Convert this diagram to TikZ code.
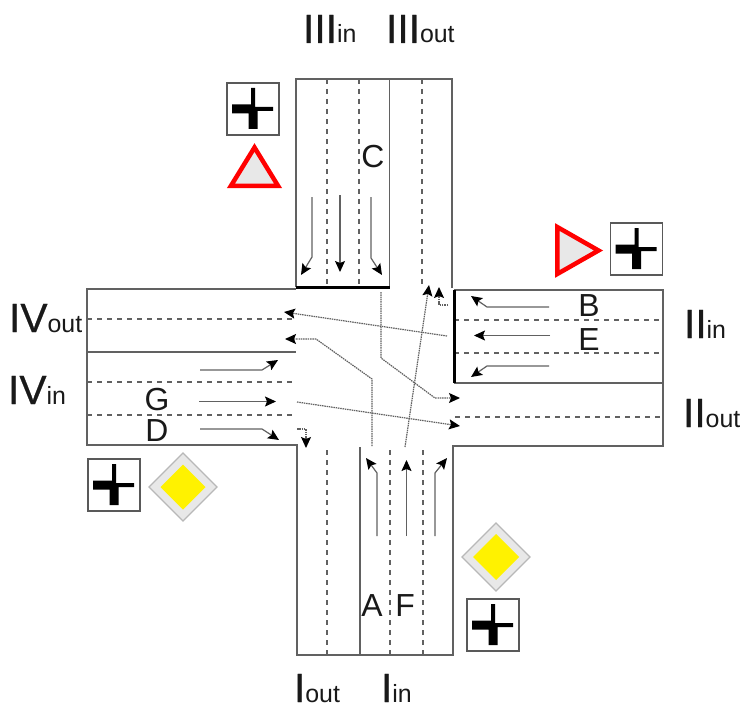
\documentclass[tikz,border=0pt]{standalone}
\usepackage{fontspec}
\setmainfont{Liberation Sans}
\newfontfamily\romfont[FakeBold=0.6]{Liberation Sans}
\usetikzlibrary{arrows.meta}
\definecolor{roadc}{gray}{0.38}
\definecolor{signg}{gray}{0.91}
\definecolor{signe}{gray}{0.72}
\newcommand{\rdlabel}[2]{{\romfont\fontsize{41}{41}\selectfont #1}\fontsize{25}{25}\selectfont #2}
\tikzset{
  x=1bp,y=-1bp,
  road/.style={draw=roadc,line width=1.4bp},
  lane/.style={draw=roadc,line width=1.2bp,dash pattern=on 5bp off 5bp},
  stopline/.style={draw=black,line width=3bp},
  flow/.style={draw=roadc,line width=1.2bp,-{Stealth[length=11bp,width=10bp,inset=2bp,color=black]}},
  path dotted/.style={draw=roadc,line width=1.2bp,dash pattern=on 1.5bp off 0.8bp,-{Stealth[length=11bp,width=10bp,inset=2bp,color=black]}},
  rdtext/.style={anchor=base west,inner sep=0pt,outer sep=0pt,text=black!90},
  letter/.style={anchor=base,inner sep=0pt,outer sep=0pt,font=\fontsize{32}{32}\selectfont,text=black!90},
  plate/.style={draw=black!65,line width=1.1bp,fill=white},
  yield/.style={draw=red,fill=signg,line width=4.5bp,miter limit=10},
  prio/.style={draw=signe,fill=signg,line width=1.2bp},
  prioin/.style={fill=yellow,draw=none},
  crossing/.pic={
    \draw[plate] (-26,-26) rectangle (26,26);
    \fill[black] (-21,-4.5) -- (-2,-4.5) -- (-2,-21) -- (2,-21) -- (2,-2) -- (20,-2) -- (20,2) -- (4.5,2) -- (4.5,20) -- (-4.5,20) -- (-4.5,4.5) -- (-21,4.5) -- cycle;
  }
}
\begin{document}
\begin{tikzpicture}
\useasboundingbox (0,0) rectangle (742,706);
\fill[white] (0,0) rectangle (742,706);
% road outline
\draw[road] (296,287) -- (296,79) -- (452,79) -- (452,288);
\draw[road] (389.5,79) -- (389.5,287);
\draw[road] (296,289) -- (87,289) -- (87,445) -- (297,445) -- (297,655) -- (453,655) -- (453,446) -- (663,446) -- (663,290) -- (454,290);
\draw[road] (87,352) -- (296,352);
\draw[road] (454,383) -- (663,383);
\draw[road] (360,447) -- (360,655);
% lanes
\draw[lane] (327,79) -- (327,287);
\draw[lane] (359,79) -- (359,287);
\draw[lane] (422,79) -- (422,287);
\draw[lane] (87,319) -- (295,319);
\draw[lane] (87,382) -- (294,382);
\draw[lane] (87,415) -- (294,415);
\draw[lane] (454,320) -- (663,320);
\draw[lane] (454,353) -- (663,353);
\draw[lane] (455,417) -- (663,417);
\draw[lane] (327,450) -- (327,655);
\draw[lane] (390,450) -- (390,655);
\draw[lane] (423,450) -- (423,655);
% stop lines
\draw[stopline] (296,287) -- (389.5,287);
\draw[stopline] (454,290) -- (454,383);
% lane arrows
\draw[flow] (312,197) -- (312,257) -- (301,275);
\draw[flow] (340,195) -- (340,272);
\draw[flow] (371,197) -- (371,258) -- (382,275);
\draw[flow] (549,307) -- (487,307) -- (471,296);
\draw[flow] (550,335.5) -- (474,335.5);
\draw[flow] (549,366) -- (487,366) -- (471,377);
\draw[flow] (200,370) -- (262,370) -- (278,360);
\draw[flow] (199,401.5) -- (276,401.5);
\draw[flow] (200,429) -- (262,429) -- (279,440);
\draw[flow] (377,536) -- (377,473) -- (366,458);
\draw[flow] (406.5,536) -- (406.5,460);
\draw[flow] (435,536) -- (435,473) -- (447,458);
% paths through the junction
\draw[path dotted] (447,336) -- (284,312);
\draw[path dotted] (372,446) -- (372,379) -- (316,339) -- (285,339);
\draw[path dotted] (381,292) -- (381,358) -- (435,398) -- (460,398);
\draw[path dotted] (405,447) -- (429,285);
\draw[path dotted] (297,402) -- (460,426);
\draw[path dotted] (448,305) -- (439,305) -- (439,287);
\draw[path dotted] (297,429) -- (306,429) -- (306,448);
% signs
\pic at (253,109) {crossing};
\pic at (114,485) {crossing};
\pic at (493,625) {crossing};
\pic at (636.5,249) {crossing};
\draw[yield] (254.5,147.5) -- (278,185.75) -- (231,185.75) -- cycle;
\draw[yield] (557.25,227) -- (598.5,250.5) -- (557.25,274) -- cycle;
\draw[prio] (183,453) -- (217,487) -- (183,521) -- (149,487) -- cycle;
\fill[prioin] (183,464.5) -- (205.5,487) -- (183,509.5) -- (160.5,487) -- cycle;
\draw[prio] (496,523) -- (530,557) -- (496,591) -- (462,557) -- cycle;
\fill[prioin] (496,534) -- (519,557) -- (496,580) -- (473,557) -- cycle;
% road labels
\node[rdtext] (l3in) at (303,43) {\rdlabel{III}{in}};
\node[rdtext] (l3out) at (386,43) {\rdlabel{III}{out}};
\node[rdtext] (l4out) at (9,332) {\rdlabel{IV}{out}};
\node[rdtext] (l4in) at (8,404) {\rdlabel{IV}{in}};
\node[rdtext] (l2in) at (684,338) {\rdlabel{II}{in}};
\node[rdtext] (l2out) at (683,427) {\rdlabel{II}{out}};
\node[rdtext] (l1out) at (294,702) {\rdlabel{I}{out}};
\node[rdtext] (l1in) at (381,702) {\rdlabel{I}{in}};
% letters
\node[letter] (lc) at (373,167) {C};
\node[letter] (lb) at (589,316) {B};
\node[letter] (le) at (589,350) {E};
\node[letter] (lg) at (157,410) {G};
\node[letter] (ld) at (157,441) {D};
\node[letter] (la) at (372,616) {A};
\node[letter] (lf) at (405,616) {F};
\end{tikzpicture}
\end{document}
